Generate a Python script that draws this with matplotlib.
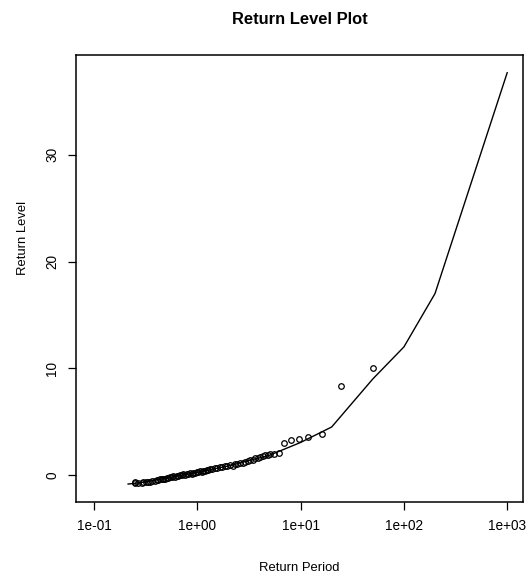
import matplotlib
matplotlib.use('Agg')
import matplotlib.pyplot as plt

plt.rcParams['font.family'] = ['Liberation Sans', 'DejaVu Sans']

# empirical return periods / levels (points)
period_pts = [0.249, 0.252, 0.267, 0.290, 0.300, 0.316, 0.330, 0.348, 0.365, 0.390,
              0.405, 0.420, 0.436, 0.452, 0.470, 0.487, 0.505, 0.525, 0.544, 0.565,
              0.587, 0.608, 0.632, 0.655, 0.680, 0.705, 0.732, 0.761, 0.790, 0.820,
              0.850, 0.885, 0.918, 0.951, 0.990, 1.02, 1.06, 1.10, 1.14, 1.19,
              1.24, 1.28, 1.33, 1.40, 1.48, 1.56, 1.66, 1.75, 1.85, 1.95,
              2.07, 2.20, 2.32, 2.45, 2.59, 2.75, 2.90, 3.07, 3.24, 3.45,
              3.62, 3.85, 4.04, 4.30, 4.52, 4.80, 5.05, 5.55, 6.25,
              6.9, 8.07, 9.55, 11.9, 16.1, 24.6, 49.9]
level_pts = [-0.70, -0.74, -0.72, -0.75, -0.70, -0.68, -0.63, -0.62, -0.55, -0.54,
             -0.47, -0.46, -0.40, -0.40, -0.33, -0.34, -0.26, -0.27, -0.19, -0.20,
             -0.12, -0.15, -0.06, -0.08, 0.01, -0.02, 0.06, 0.03, 0.12, 0.08,
             0.17, 0.14, 0.22, 0.19, 0.28, 0.24, 0.33, 0.32, 0.40, 0.37,
             0.47, 0.44, 0.53, 0.53, 0.63, 0.62, 0.73, 0.72, 0.83, 0.81,
             0.91, 0.89, 0.99, 1.00, 1.11, 1.12, 1.25, 1.27, 1.41, 1.45,
             1.58, 1.59, 1.73, 1.74, 1.85, 1.85, 1.95, 1.96, 2.02,
             2.97, 3.30, 3.35, 3.56, 3.86, 8.37, 10.0]

# fitted return level curve
period_fit = [0.214, 0.3, 0.5, 1, 2, 5, 10, 20, 50, 100, 200, 1000]
level_fit = [-0.85, -0.68, -0.30, 0.26, 0.85, 1.85, 3.05, 4.5, 9.0, 12.0, 17.0, 37.7]

xticks = [0.1, 1, 10, 100, 1000]
xlabels = ['1e-01', '1e+00', '1e+01', '1e+02', '1e+03']
yticks = [0, 10, 20, 30]

fig = plt.figure(figsize=(5.31, 5.76), dpi=100)
ax = fig.add_axes([76 / 531, 1 - 502 / 576, (523 - 76) / 531, (502 - 55) / 576])

ax.plot(period_fit, level_fit, color='black', linewidth=1.0)
ax.plot(period_pts, level_pts, linestyle='none', marker='o', markersize=4.0,
        markerfacecolor='none', markeredgecolor='black', markeredgewidth=0.9)

ax.set_xscale('log')
ax.set_xlim(10 ** -1.174, 10 ** 3.153)
ax.set_ylim(-2.53, 39.36)
ax.set_xticks(xticks)
ax.set_xticklabels(xlabels)
ax.minorticks_off()
ax.set_yticks(yticks)
ax.set_yticklabels([str(t) for t in yticks], rotation=90, va='center')

ax.tick_params(direction='out', length=6, width=0.9, labelsize=9.8, pad=6)
for s in ax.spines.values():
    s.set_linewidth(1.1)

fig.text(299.5 / 531, 1 - 20 / 576, 'Return Level Plot', ha='center', va='center',
         fontsize=11.9, fontweight='bold')
fig.text(299.5 / 531, 1 - 568 / 576, 'Return Period', ha='center', va='center', fontsize=9.4)
fig.text(23 / 531, 1 - 238 / 576, 'Return Level', ha='center', va='center',
         rotation=90, fontsize=9.4)

fig.savefig('out.png', dpi=100)
